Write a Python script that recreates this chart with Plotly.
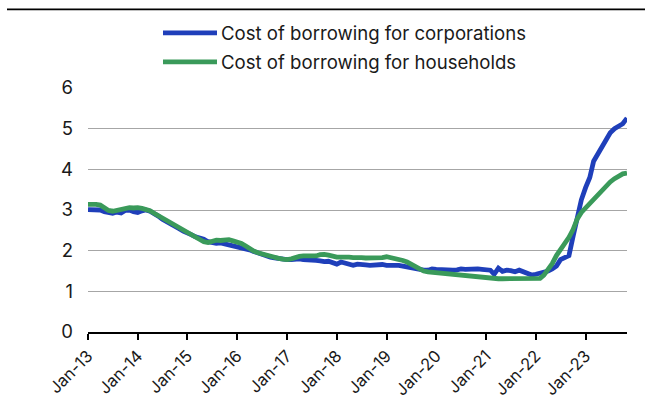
import pandas as pd
import plotly.graph_objects as go

start_month = "2013-01-01"
n_months = 131

corporations = [
    3.01, 3.00, 2.99, 3.00, 2.96, 2.93, 2.92, 2.95, 2.93, 2.99, 3.00, 2.96,
    2.94, 2.98, 3.00, 2.97, 2.92, 2.85, 2.77, 2.72, 2.66, 2.60, 2.54, 2.48,
    2.42, 2.39, 2.34, 2.32, 2.28, 2.22, 2.20, 2.18, 2.19, 2.17, 2.14, 2.12,
    2.10, 2.09, 2.07, 2.02, 1.98, 1.94, 1.89, 1.87, 1.84, 1.82, 1.80, 1.79,
    1.78, 1.78, 1.79, 1.80, 1.78, 1.78, 1.77, 1.76, 1.75, 1.73, 1.74, 1.70,
    1.67, 1.72, 1.70, 1.66, 1.64, 1.67, 1.67, 1.65, 1.64, 1.65, 1.65, 1.66,
    1.64, 1.64, 1.65, 1.64, 1.62, 1.60, 1.57, 1.54, 1.53, 1.52, 1.52, 1.55,
    1.54, 1.53, 1.52, 1.52, 1.52, 1.53, 1.55, 1.54, 1.55, 1.56, 1.55, 1.54,
    1.54, 1.52, 1.42, 1.57, 1.49, 1.52, 1.51, 1.48, 1.52, 1.47, 1.44, 1.40,
    1.42, 1.44, 1.47, 1.50, 1.55, 1.62, 1.78, 1.82, 1.88, 2.35, 2.85, 3.25,
    3.55, 3.80, 4.20, 4.38, 4.55, 4.72, 4.90, 5.00, 5.05, 5.12, 5.26,
]

households = [
    3.14, 3.15, 3.14, 3.12, 3.06, 2.99, 2.97, 3.00, 3.03, 3.05, 3.06, 3.05,
    3.06, 3.04, 3.02, 2.98, 2.92, 2.86, 2.79, 2.72, 2.66, 2.60, 2.55, 2.49,
    2.42, 2.37, 2.32, 2.27, 2.22, 2.20, 2.24, 2.26, 2.25, 2.26, 2.27, 2.24,
    2.22, 2.18, 2.12, 2.05, 1.99, 1.95, 1.92, 1.88, 1.85, 1.83, 1.81, 1.79,
    1.78, 1.80, 1.84, 1.86, 1.87, 1.87, 1.88, 1.87, 1.90, 1.91, 1.89, 1.86,
    1.84, 1.84, 1.85, 1.84, 1.83, 1.84, 1.83, 1.82, 1.82, 1.82, 1.81, 1.83,
    1.85, 1.83, 1.80, 1.78, 1.76, 1.72, 1.66, 1.60, 1.55, 1.50, 1.48, 1.47,
    1.46, 1.45, 1.45, 1.44, 1.43, 1.42, 1.41, 1.40, 1.39, 1.38, 1.37, 1.35,
    1.33, 1.31, 1.30, 1.31, 1.31, 1.31, 1.31, 1.32, 1.31, 1.31, 1.30, 1.30,
    1.30, 1.32, 1.40, 1.52, 1.68, 1.88, 2.02, 2.18, 2.33, 2.52, 2.78, 2.94,
    3.05, 3.18, 3.30, 3.40, 3.50, 3.60, 3.69, 3.77, 3.84, 3.89, 3.91,
]

series_names = ["Cost of borrowing for corporations", "Cost of borrowing for households"]
series_colors = ["#1f3fba", "#3a9a5a"]

tick_dates = [f"{y}-01-01" for y in range(2013, 2024)]
tick_labels = [f"Jan-{y % 100:02d}" for y in range(2013, 2024)]
y_ticks = [0, 1, 2, 3, 4, 5, 6]

dates = pd.date_range(start_month, periods=n_months, freq="MS")

FONT = "Inter"
fig = go.Figure()
for name, vals, col in zip(series_names, [corporations, households], series_colors):
    fig.add_trace(go.Scatter(
        x=dates, y=vals, mode="lines", name=name,
        line=dict(color=col, width=4.8), showlegend=False,
    ))

# manual legend
PL, PR, PT, PB = 88, 19, 88, 67.3
W, H = 646, 399
pw = W - PL - PR
ph = H - PT - PB

def px_x(x):
    return (x - PL) / pw

def px_y(y):
    return (H - PB - y) / ph

shapes = []
annotations = []
for i, (name, col) in enumerate(zip(series_names, series_colors)):
    yy = 33 + 29 * i
    shapes.append(dict(type="line", xref="paper", yref="paper",
                       x0=px_x(163), x1=px_x(217), y0=px_y(yy), y1=px_y(yy),
                       line=dict(color=col, width=4.8)))
    annotations.append(dict(xref="paper", yref="paper", x=px_x(219), y=px_y(yy),
                            text=name, showarrow=False, xanchor="left", yanchor="middle",
                            font=dict(family=FONT, size=18.6, color="#1a1a1a")))

# top rule
shapes.append(dict(type="line", xref="paper", yref="paper",
                   x0=px_x(7), x1=px_x(645), y0=px_y(9.5), y1=px_y(9.5),
                   line=dict(color="black", width=1.6)))

fig.update_layout(
    width=W, height=H,
    margin=dict(l=PL, r=PR, t=PT, b=PB),
    paper_bgcolor="white", plot_bgcolor="white",
    font=dict(family=FONT, size=16, color="#1a1a1a"),
    shapes=shapes, annotations=annotations,
    xaxis=dict(
        type="date", range=[start_month, "2023-11-01"], automargin=False,
        tickvals=tick_dates, ticktext=tick_labels, tickangle=-45,
        ticks="outside", ticklen=6, tickwidth=1.5, tickcolor="black",
        showline=True, linecolor="black", linewidth=1.6,
        showgrid=False, zeroline=False,
        tickfont=dict(family=FONT, size=16.5, color="#1a1a1a"),
    ),
    yaxis=dict(
        range=[0, 6], tickvals=y_ticks, automargin=False,
        showgrid=True, gridcolor="#a6a6a6", gridwidth=1.3,
        zeroline=False, showline=False, ticks="", ticklabelstandoff=14,
        tickfont=dict(family=FONT, size=18.5, color="#1a1a1a"),
    ),
)

fig.write_html("out.html")
